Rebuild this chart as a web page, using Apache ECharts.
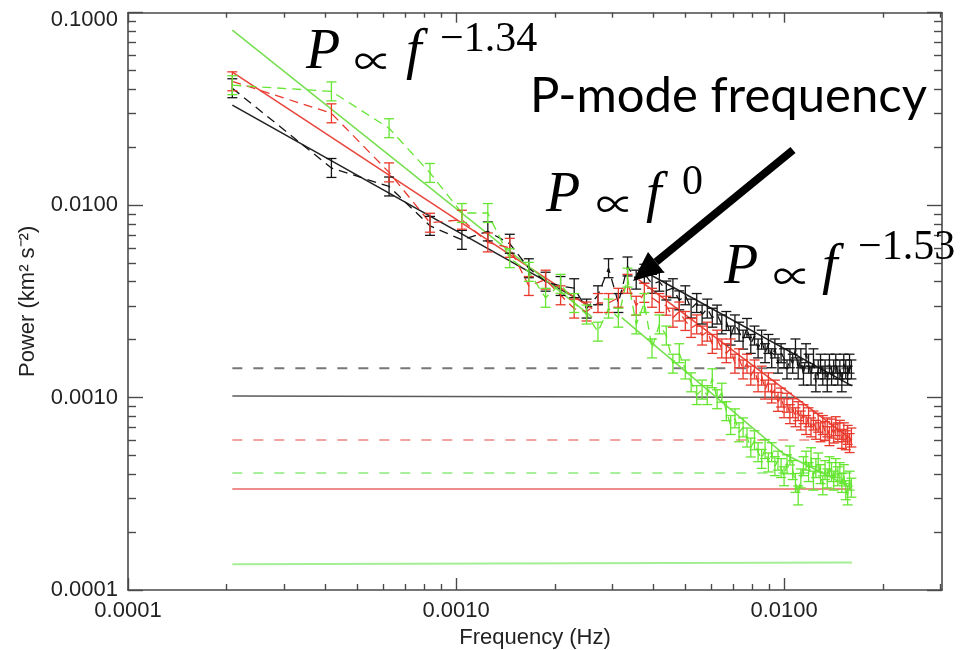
<!DOCTYPE html>
<html><head><meta charset="utf-8">
<script src="https://cdn.jsdelivr.net/npm/echarts@6/dist/echarts.min.js"></script>
<style>html,body{margin:0;padding:0;background:#fff}#c{width:960px;height:650px}</style>
</head><body><div id="c"></div>
<script>
// ---- data ----
const freq = [0.000208,0.000417,0.000625,0.000833,0.001042,0.00125,0.001458,0.001667,0.001875,0.002083,
0.002292,0.0025,0.002708,0.002917,0.003125,0.003333,0.003542,0.00375,0.003958,0.004167,
0.004375,0.004583,0.004792,0.005,0.005208,0.005417,0.005625,0.005833,0.006042,0.00625,
0.006458,0.006667,0.006875,0.007083,0.007292,0.0075,0.007708,0.007917,0.008125,0.008333,
0.008542,0.00875,0.008958,0.009167,0.009375,0.009583,0.009792,0.01,0.010208,0.010417,
0.010625,0.010833,0.011042,0.01125,0.011458,0.011667,0.011875,0.012083,0.012292,0.0125,
0.012708,0.012917,0.013125,0.013333,0.013542,0.01375,0.013958,0.014167,0.014375,0.014583,
0.014792,0.015,0.015208,0.015417,0.015625,0.015833,0.016042];

const powerBlack = [0.0405,0.0156,0.0125,0.0078,0.0066,0.0073,0.0063,0.0047,0.0040,0.0038,
0.0037,0.0029,0.0034,0.0047,0.0031,0.0048,0.0041,0.0044,0.0039,0.0040,
0.0036,0.0037,0.0032,0.0034,0.0029,0.0031,0.0027,0.0029,0.0026,0.0027,
0.0024,0.0025,0.0021,0.0024,0.0022,0.0020,0.0023,0.0019,0.0021,0.0018,
0.0020,0.0017,0.0019,0.0016,0.0018,0.0015,0.0017,0.0016,0.0014,0.0016,
0.0015,0.0018,0.0014,0.0016,0.0013,0.0017,0.0015,0.0013,0.0016,0.0012,
0.0014,0.0015,0.0013,0.0014,0.0012,0.0015,0.0013,0.0014,0.0015,0.0013,
0.0014,0.0012,0.0015,0.0014,0.0013,0.0015,0.0014];

const powerRed = [0.044,0.030,0.0148,0.0081,0.0084,0.0064,0.0060,0.0038,0.0041,0.0034,
0.0029,0.0028,0.0031,0.0031,0.0033,0.0039,0.0030,0.0035,0.0033,0.0031,
0.0030,0.0026,0.0028,0.0025,0.0023,0.0024,0.0021,0.0022,0.0019,0.0020,
0.0018,0.0017,0.0018,0.0015,0.0016,0.0014,0.0015,0.0013,0.0014,0.0012,
0.0013,0.0011,0.0012,0.00105,0.0011,0.00095,0.0010,0.00088,0.00094,0.00082,
0.00088,0.00079,0.00085,0.00076,0.00082,0.00072,0.00079,0.00070,0.00076,0.00068,
0.00074,0.00066,0.00072,0.00067,0.00070,0.00063,0.00069,0.00065,0.00071,0.00066,
0.00068,0.00061,0.00066,0.00060,0.00064,0.00058,0.00062];

const powerGreen = [0.042,0.039,0.0251,0.0147,0.0091,0.0091,0.0053,0.0045,0.0033,0.0039,
0.0031,0.0027,0.0022,0.0029,0.0026,0.0042,0.0024,0.0031,0.0018,0.0024,
0.0021,0.0015,0.0017,0.0014,0.0012,0.00103,0.0011,0.00103,0.00126,0.00098,
0.00106,0.00085,0.00072,0.00078,0.00066,0.00070,0.00062,0.00055,0.00060,0.00052,
0.00048,0.00054,0.00046,0.00052,0.00044,0.00047,0.00043,0.00039,0.00045,0.00050,
0.00042,0.00036,0.00031,0.00038,0.00044,0.00047,0.00041,0.00049,0.00037,0.00043,
0.00046,0.00040,0.00035,0.00042,0.00038,0.00044,0.00041,0.00037,0.00043,0.00039,
0.00041,0.00036,0.00040,0.00033,0.00031,0.00037,0.00034];

// relative 1-sigma error of each spectrum (bars span P/(1+e) .. P*(1+e))
const relErrBlack = 0.12, relErrRed = 0.12, relErrGreen = 0.12;

// power-law fits
const fitLowFreq   = [0.000208, 0.0026];
const fitLowBlack  = [0.0331, 0.00295];
const fitLowRed    = [0.0491, 0.0029];
const fitLowGreen  = [0.0812, 0.00262];
const fitHighFreq  = [0.0036, 0.0161];
const fitHighBlack = [0.0047, 0.00115];
const fitHighRed   = [0.0041, 0.000602];
const fitHighGreenFreq = [0.0032, 0.0099, 0.0161];
const fitHighGreen = [0.0026, 0.000515, 0.000339];

// noise levels (horizontal lines)
const noiseFreq = [0.000208, 0.0161];
const noiseBlackDashed = [0.00142, 0.00142];
const noiseBlackSolid  = [0.00102, 0.00100];
const noiseRedDashed   = [0.000602, 0.000602];
const noiseGreenDashed = [0.000405, 0.000405];
const noiseRedSolid    = [0.000335, 0.000335];
const noiseGreenSolid  = [0.000136, 0.000139];

// axis ticks
const xMajor = [0.0001, 0.001, 0.01];
const xMinor = [0.0002,0.0003,0.0004,0.0005,0.0006,0.0007,0.0008,0.0009,
                0.002,0.003,0.004,0.005,0.006,0.007,0.008,0.009,0.02,0.03];
const yMajor = [0.0001, 0.001, 0.01, 0.1];
const yMinor = [0.0002,0.0003,0.0004,0.0005,0.0006,0.0007,0.0008,0.0009,
                0.002,0.003,0.004,0.005,0.006,0.007,0.008,0.009,
                0.02,0.03,0.04,0.05,0.06,0.07,0.08,0.09];
const X_MIN = 0.0001, X_MAX = 0.0303, Y_MIN = 0.0001, Y_MAX = 0.1;

// ---- chart ----
const AX = '#4a4a4a';
const FONT = '"Liberation Sans", Arial, sans-serif';
function axis(kind, pos, ticks, len, main) {
  return {
    type: 'log', logBase: 10, position: pos,
    min: kind === 'x' ? X_MIN : Y_MIN, max: kind === 'x' ? X_MAX : Y_MAX,
    axisLine: { show: main, onZero: false, lineStyle: { color: AX, width: 1.6 } },
    axisTick: { show: true, inside: true, length: len, customValues: ticks, lineStyle: { color: AX, width: 1.4 } },
    axisLabel: { show: false },
    splitLine: { show: false }, minorTick: { show: false }, minorSplitLine: { show: false },
    silent: true
  };
}
const xAxes = [axis('x','bottom',xMajor,12,true), axis('x','bottom',xMinor,6,false),
               axis('x','top',xMajor,10,true), axis('x','top',xMinor,5,false)];
xAxes[0].axisLabel = { show: true, customValues: xMajor, formatter: v => Number(v).toFixed(4),
  fontSize: 22, color: '#222', fontFamily: FONT, margin: 10 };
xAxes[0].name = 'Frequency (Hz)';
xAxes[0].nameLocation = 'middle'; xAxes[0].nameGap = 32;
xAxes[0].nameTextStyle = { fontSize: 22, color: '#222', fontFamily: FONT };

const yAxes = [axis('y','left',yMajor,15,true), axis('y','left',yMinor,8,false),
               axis('y','right',yMajor,15,true), axis('y','right',yMinor,8,false)];
yAxes[0].axisLabel = { show: true, customValues: yMajor,
  formatter: v => (Number(v) > 0.05 ? '{t|' + Number(v).toFixed(4) + '}' : Number(v).toFixed(4)),
  rich: { t: { padding: [14, 0, 0, 0], fontSize: 22, color: '#222', fontFamily: FONT } },
  fontSize: 22, color: '#222', fontFamily: FONT, margin: 10 };
yAxes[0].name = 'Power (km² s⁻²)';
yAxes[0].nameLocation = 'middle'; yAxes[0].nameGap = 89;
yAxes[0].nameTextStyle = { fontSize: 22, color: '#222', fontFamily: FONT };

function pairs(xs, ys) { return xs.map((x, i) => [x, ys[i]]); }
function lineSeries(xs, ys, color, width, type, z) {
  return { type: 'line', data: pairs(xs, ys), symbol: 'none', silent: true, animation: false,
    lineStyle: { color: color, width: width, type: type }, z: z || 2 };
}
function errSeries(powers, rel, color) {
  return {
    type: 'custom', silent: true, animation: false, z: 4,
    data: freq.map((f, i) => [f, powers[i] / (1 + rel), powers[i] * (1 + rel)]),
    encode: { x: 0, y: [1, 2] },
    renderItem: function (params, api) {
      const x = api.value(0);
      const a = api.coord([x, api.value(1)]);
      const b = api.coord([x, api.value(2)]);
      const w = 5;
      const st = { stroke: color, lineWidth: 1.3 };
      return { type: 'group', children: [
        { type: 'line', shape: { x1: a[0], y1: a[1], x2: b[0], y2: b[1] }, style: st },
        { type: 'line', shape: { x1: a[0] - w, y1: a[1], x2: a[0] + w, y2: a[1] }, style: st },
        { type: 'line', shape: { x1: b[0] - w, y1: b[1], x2: b[0] + w, y2: b[1] }, style: st }
      ]};
    }
  };
}

const C_BLACK = '#151515', C_RED = '#e8392c', C_GREEN = '#66e632';
const series = [
  lineSeries(noiseFreq, noiseBlackDashed, '#777777', 2, [10, 11], 1),
  lineSeries(noiseFreq, noiseBlackSolid, '#5a5a5a', 1.5, 'solid', 1),
  lineSeries(noiseFreq, noiseRedDashed, '#f3a2a2', 2, [10, 11], 1),
  lineSeries(noiseFreq, noiseGreenDashed, '#a9f09d', 2, [10, 11], 1),
  lineSeries(noiseFreq, noiseRedSolid, '#e86464', 1.5, 'solid', 1),
  lineSeries(noiseFreq, noiseGreenSolid, '#a4ee94', 2, 'solid', 1),
  lineSeries(fitLowFreq, fitLowBlack, '#222222', 1.6, 'solid', 3),
  lineSeries(fitLowFreq, fitLowRed, '#e8473d', 1.6, 'solid', 3),
  lineSeries(fitLowFreq, fitLowGreen, '#78e052', 1.6, 'solid', 3),
  lineSeries(fitHighFreq, fitHighBlack, '#222222', 1.6, 'solid', 3),
  lineSeries(fitHighFreq, fitHighRed, '#e8473d', 1.6, 'solid', 3),
  lineSeries(fitHighGreenFreq, fitHighGreen, '#78e052', 1.6, 'solid', 3),
  lineSeries(freq, powerBlack, C_BLACK, 1.3, [9, 6], 3),
  lineSeries(freq, powerRed, C_RED, 1.3, [9, 6], 3),
  lineSeries(freq, powerGreen, C_GREEN, 1.3, [9, 6], 3),
  errSeries(powerBlack, relErrBlack, C_BLACK),
  errSeries(powerRed, relErrRed, C_RED),
  errSeries(powerGreen, relErrGreen, C_GREEN)
];

const SERIF = '"Liberation Serif", "DejaVu Serif", serif';
const SYM = '"Noto Sans CJK JP", "DejaVu Sans", sans-serif';
function txt(x, y, s, font) {
  return { type: 'text', x: x, y: y, silent: true, z: 100,
    style: { text: s, font: font, fill: '#000', textAlign: 'left', textVerticalAlign: 'middle' } };
}
// formula pieces: P, proportional sign, f, exponent
function formula(x0, base, xs, exp, expBase) {
  return [
    txt(x0 + xs[0], base - 19, 'P', 'italic 56px ' + SERIF),
    txt(x0 + xs[1], base - 11, '∝', '38px ' + SYM),
    txt(x0 + xs[2], base - 19, 'f', 'italic 56px ' + SERIF),
    txt(x0 + xs[3], expBase - 14, exp, '42px ' + SERIF)
  ];
}
const graphic = [].concat(
  formula(306, 72, [0, 48, 100, 134], '−1.34', 54),
  [txt(530, 96, 'P-mode frequency', '49px Lato, "Open Sans", sans-serif')],
  formula(546, 215, [0, 50, 100, 136], '0', 197),
  formula(724, 287, [0, 49, 98, 134], '−1.53', 262),
  [{ type: 'line', silent: true, z: 100, shape: { x1: 793, y1: 150, x2: 656, y2: 262 },
     style: { stroke: '#000', lineWidth: 8 } },
   { type: 'polygon', silent: true, z: 100, shape: { points: [[633, 281], [664, 272], [648, 252]] },
     style: { fill: '#000' } }]
);

const chart = echarts.init(document.getElementById('c'), null, { renderer: 'canvas' });
chart.setOption({
  animation: false,
  backgroundColor: '#ffffff',
  textStyle: { fontFamily: FONT },
  grid: { left: 128, right: 18, top: 12.7, bottom: 60, containLabel: false, outerBoundsMode: 'none' },
  xAxis: xAxes,
  yAxis: yAxes,
  series: series,
  graphic: graphic
});
</script></body></html>
